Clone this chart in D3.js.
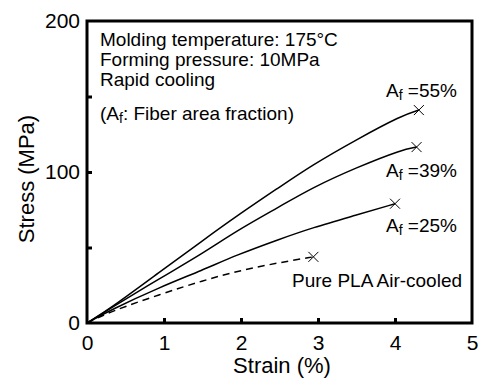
<!DOCTYPE html>
<html>
<head>
<meta charset="utf-8">
<script src="https://cdn.jsdelivr.net/npm/d3@7"></script>
<style>
  body { margin: 0; background: #fff; }
  text { font-family: "Liberation Sans", Arial, sans-serif; fill: #000; }
</style>
</head>
<body>
<div id="chart"></div>
<script>
// values (strain %, stress MPa)
const strainAf55 = [0, 0.3, 0.95, 1.5, 1.94, 2.5, 2.92, 3.5, 4.09, 4.31];
const stressAf55 = [0, 9.5, 34, 54.5, 70.7, 90, 104.5, 121.5, 137.5, 141];

const strainAf39 = [0, 0.3, 0.95, 1.5, 1.94, 2.5, 2.92, 3.5, 4.09, 4.28];
const stressAf39 = [0, 9.5, 29.7, 46, 61, 77, 89.5, 103, 114.8, 116.5];

const strainAf25 = [0, 0.3, 0.95, 1.5, 1.94, 2.5, 2.92, 3.5, 4.0];
const stressAf25 = [0, 8.5, 23.8, 35, 45, 55.5, 63, 71.5, 79];

const strainPLA = [0, 0.3, 0.95, 1.5, 2.0, 2.5, 2.94];
const stressPLA = [0, 7.5, 19, 28, 35, 40, 43.8];

const xTicks = [0, 1, 2, 3, 4, 5];
const yTicks = [0, 50, 100, 150, 200];
const yLabels = [0, 100, 200];

const notes = ["Molding temperature: 175\u00B0C", "Forming pressure: 10MPa", "Rapid cooling"];

const width = 483, height = 379;
const svg = d3.select('#chart').append('svg').attr('width', width).attr('height', height);

const x = d3.scaleLinear().domain([0, 5]).range([87, 472]);
const y = d3.scaleLinear().domain([0, 200]).range([323, 21]);

// axes, ticks pointing inward
const xAxis = svg.append('g')
    .attr('transform', 'translate(0,' + y(0) + ')')
    .call(d3.axisBottom(x).tickValues(xTicks).tickSize(-5).tickPadding(12).tickFormat(d3.format('d')));
const yAxis = svg.append('g')
    .attr('transform', 'translate(' + x(0) + ',0)')
    .call(d3.axisLeft(y).tickValues(yTicks).tickSize(-5).tickPadding(7)
        .tickFormat(d => yLabels.includes(d) ? d : ''));

[xAxis, yAxis].forEach(a => {
  a.select('.domain').remove();
  a.selectAll('.tick line').attr('stroke', '#000').attr('stroke-width', 3);
  a.selectAll('.tick text').style('font-size', '21px').attr('font-family', null);
});
xAxis.selectAll('.tick').filter(d => d === 0 || d === 5).select('line').remove();
yAxis.selectAll('.tick').filter(d => d === 0 || d === 200).select('line').remove();

// frame
svg.append('rect')
    .attr('x', x(0)).attr('y', y(200))
    .attr('width', x(5) - x(0)).attr('height', y(0) - y(200))
    .attr('fill', 'none').attr('stroke', '#000').attr('stroke-width', 3);

// axis titles
svg.append('text')
    .attr('x', 282).attr('y', 373)
    .attr('text-anchor', 'middle').style('font-size', '22px')
    .text('Strain (%)');
svg.append('text')
    .attr('transform', 'translate(34,179) rotate(-90)')
    .attr('text-anchor', 'middle').style('font-size', '22px')
    .text('Stress (MPa)');

// curves
const series = [
  { xs: strainAf55, ys: stressAf55, dash: null },
  { xs: strainAf39, ys: stressAf39, dash: null },
  { xs: strainAf25, ys: stressAf25, dash: null },
  { xs: strainPLA, ys: stressPLA, dash: '7,5' }
];

const line = d3.line()
    .x(d => x(d[0]))
    .y(d => y(d[1]))
    .curve(d3.curveBasis);

const c = 5; // half size of the break mark
series.forEach(s => {
  const pts = s.xs.map((v, i) => [v, s.ys[i]]);
  svg.append('path')
      .datum(pts)
      .attr('d', line)
      .attr('fill', 'none')
      .attr('stroke', '#000')
      .attr('stroke-width', 1.5)
      .attr('stroke-dasharray', s.dash);
  // break mark
  const end = pts[pts.length - 1];
  svg.append('path')
      .attr('d', `M${-c},${-c}L${c},${c}M${-c},${c}L${c},${-c}`)
      .attr('transform', 'translate(' + x(end[0]) + ',' + y(end[1]) + ')')
      .attr('fill', 'none')
      .attr('stroke', '#000')
      .attr('stroke-width', 1);
});

// notes
svg.selectAll('.note').data(notes).enter().append('text')
    .attr('class', 'note')
    .attr('x', 100).attr('y', (d, i) => 46 + i * 20)
    .style('font-size', '19px')
    .text(d => d);

function afLabel(tx, ty, rest, before) {
  const t = svg.append('text').attr('x', tx).attr('y', ty).style('font-size', '19px');
  if (before) t.append('tspan').text(before);
  t.append('tspan').text('A');
  t.append('tspan').attr('dy', 3).style('font-size', '14px').text('f');
  t.append('tspan').attr('dy', -3).text(rest);
}
afLabel(100, 120, ': Fiber area fraction)', '(');
afLabel(386, 97, ' =55%');
afLabel(386, 177, ' =39%');
afLabel(386, 232, ' =25%');

svg.append('text')
    .attr('x', 292).attr('y', 287)
    .style('font-size', '19px')
    .text('Pure PLA Air-cooled');
</script>
</body>
</html>
